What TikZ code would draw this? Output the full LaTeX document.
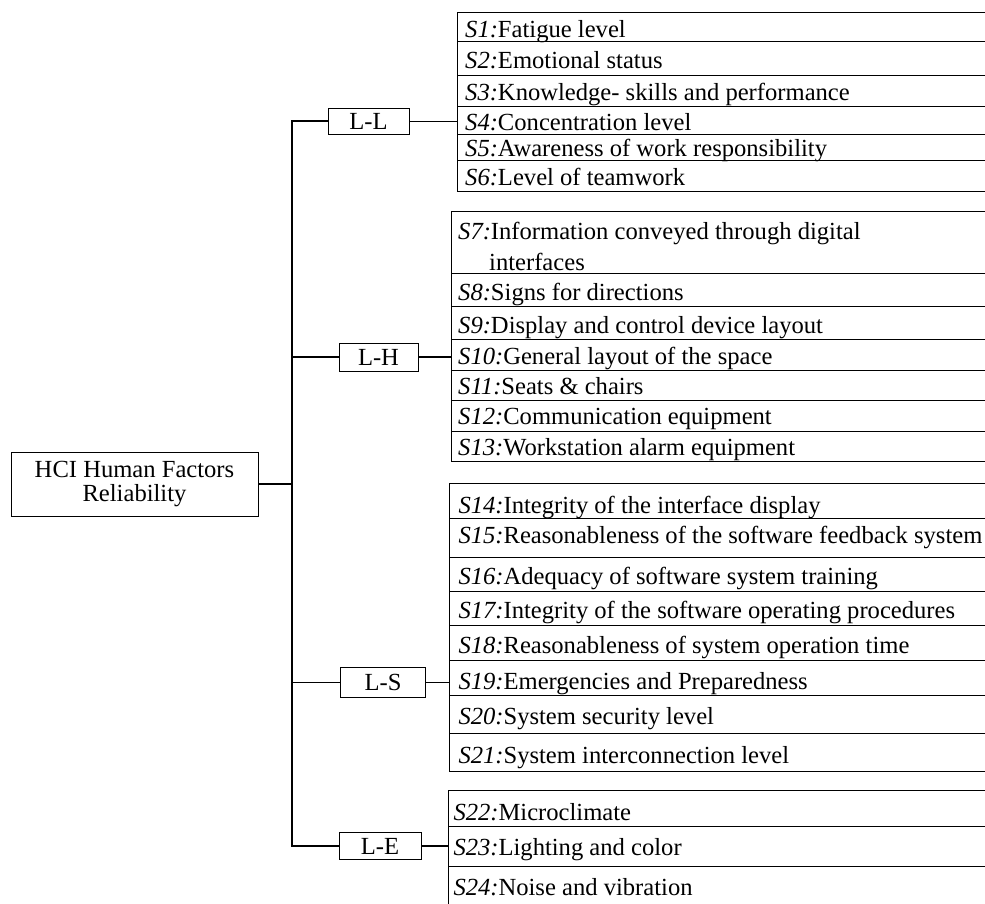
\documentclass[tikz,border=0pt]{standalone}
\usepackage{fontspec}
\setmainfont{Liberation Serif}

% One factor row: #1 index, #2 left edge, #3 top, #4 bottom, #5 text baseline, #6 description
\newcommand\factorrow[6]{%
  \node[rowbox, minimum height={#4-#3}] (s#1) at (#2,#3) {};
  \node[rowtext] (s#1t) at (#2+\rowpad,#5) {\textit{S#1:}#6};
}

\begin{document}
\begin{tikzpicture}[x=1pt, y=-1pt,
  txt/.style={font=\fontsize{24.6}{28}\selectfont},
  rowbox/.style={draw, line width=0.8pt, inner sep=0pt, outer sep=0pt,
                 anchor=north west, minimum width=600pt},
  rowtext/.style={txt, anchor=base west, inner sep=0pt},
  lbox/.style={draw, line width=0.8pt, inner sep=0pt, outer sep=0pt, txt},
  link/.style={line width=1.5pt},
  trunkline/.style={line width=2pt, line join=miter}]

\useasboundingbox (0,0) rectangle (985,903);
\clip (0,0) rectangle (985,903);

% root and the four interface categories
\node[lbox, minimum width=247pt, minimum height=64pt, align=center,
      font=\fontsize{24.6}{23.5}\selectfont] (root) at (134.5,484)
      {HCI Human Factors\\Reliability};
\node[lbox, minimum width=81pt, minimum height=26.7pt] (ll) at (368.5,121.3) {L-L};
\node[lbox, minimum width=79pt, minimum height=27.7pt] (lh) at (378.5,357.2) {L-H};
\node[lbox, minimum width=84.6pt, minimum height=29.3pt] (ls) at (383,682.3) {L-S};
\node[lbox, minimum width=82pt, minimum height=26.7pt] (le) at (380,846) {L-E};

% L-L factors
\def\rowpad{8}
\factorrow{1}{457}{12.7}{41.7}{37.5}{Fatigue level}
\factorrow{2}{457}{41.7}{75}{68.5}{Emotional status}
\factorrow{3}{457}{75}{106}{100}{Knowledge- skills and performance}
\factorrow{4}{457}{106}{134.7}{130.5}{Concentration level}
\factorrow{5}{457}{134.7}{160}{156.5}{Awareness of work responsibility}
\factorrow{6}{457}{160}{191.7}{185}{Level of teamwork}

% L-H factors
\def\rowpad{6.5}
\factorrow{7}{451.5}{211}{273}{239.3}{Information conveyed through digital}
\node[rowtext] (s7u) at (489,270) {interfaces};
\factorrow{8}{451.5}{273}{306}{300}{Signs for directions}
\factorrow{9}{451.5}{306}{339}{333}{Display and control device layout}
\factorrow{10}{451.5}{339}{370}{364.5}{General layout of the space}
\factorrow{11}{451.5}{370}{400}{394.5}{Seats \& chairs}
\factorrow{12}{451.5}{400}{431}{424.5}{Communication equipment}
\factorrow{13}{451.5}{431}{461}{455.5}{Workstation alarm equipment}

% L-S factors
\def\rowpad{9}
\factorrow{14}{449.3}{483}{518}{513}{Integrity of the interface display}
\factorrow{15}{449.3}{518}{557}{543}{Reasonableness of the software feedback system}
\factorrow{16}{449.3}{557}{591}{584}{Adequacy of software system training}
\factorrow{17}{449.3}{591}{625}{618}{Integrity of the software operating procedures}
\factorrow{18}{449.3}{625}{660}{653}{Reasonableness of system operation time}
\factorrow{19}{449.3}{660}{695}{689.5}{Emergencies and Preparedness}
\factorrow{20}{449.3}{695}{733}{724}{System security level}
\factorrow{21}{449.3}{733}{771.7}{763}{System interconnection level}

% L-E factors
\def\rowpad{5}
\factorrow{22}{448.3}{790.7}{826}{820}{Microclimate}
\factorrow{23}{448.3}{826}{866.7}{855}{Lighting and color}
\factorrow{24}{448.3}{866.7}{930}{895}{Noise and vibration}

% trunk and branches
\coordinate (trunk) at (291.5,484);
\draw[trunkline] (ll.west) -- (ll.west -| trunk) -- (le.west -| trunk) -- (le.west);
\draw[link] (lh.west) -- (lh.west -| trunk);
\draw[link] (ls.west) -- (ls.west -| trunk);
\draw[link] (root.east) -- (root.east -| trunk);
\draw[link] (ll.east) -- (ll.east -| s4.west);
\draw[link] (lh.east) -- (lh.east -| s10.west);
\draw[link] (ls.east) -- (ls.east -| s19.west);
\draw[link] (le.east) -- (le.east -| s23.west);
\end{tikzpicture}
\end{document}
